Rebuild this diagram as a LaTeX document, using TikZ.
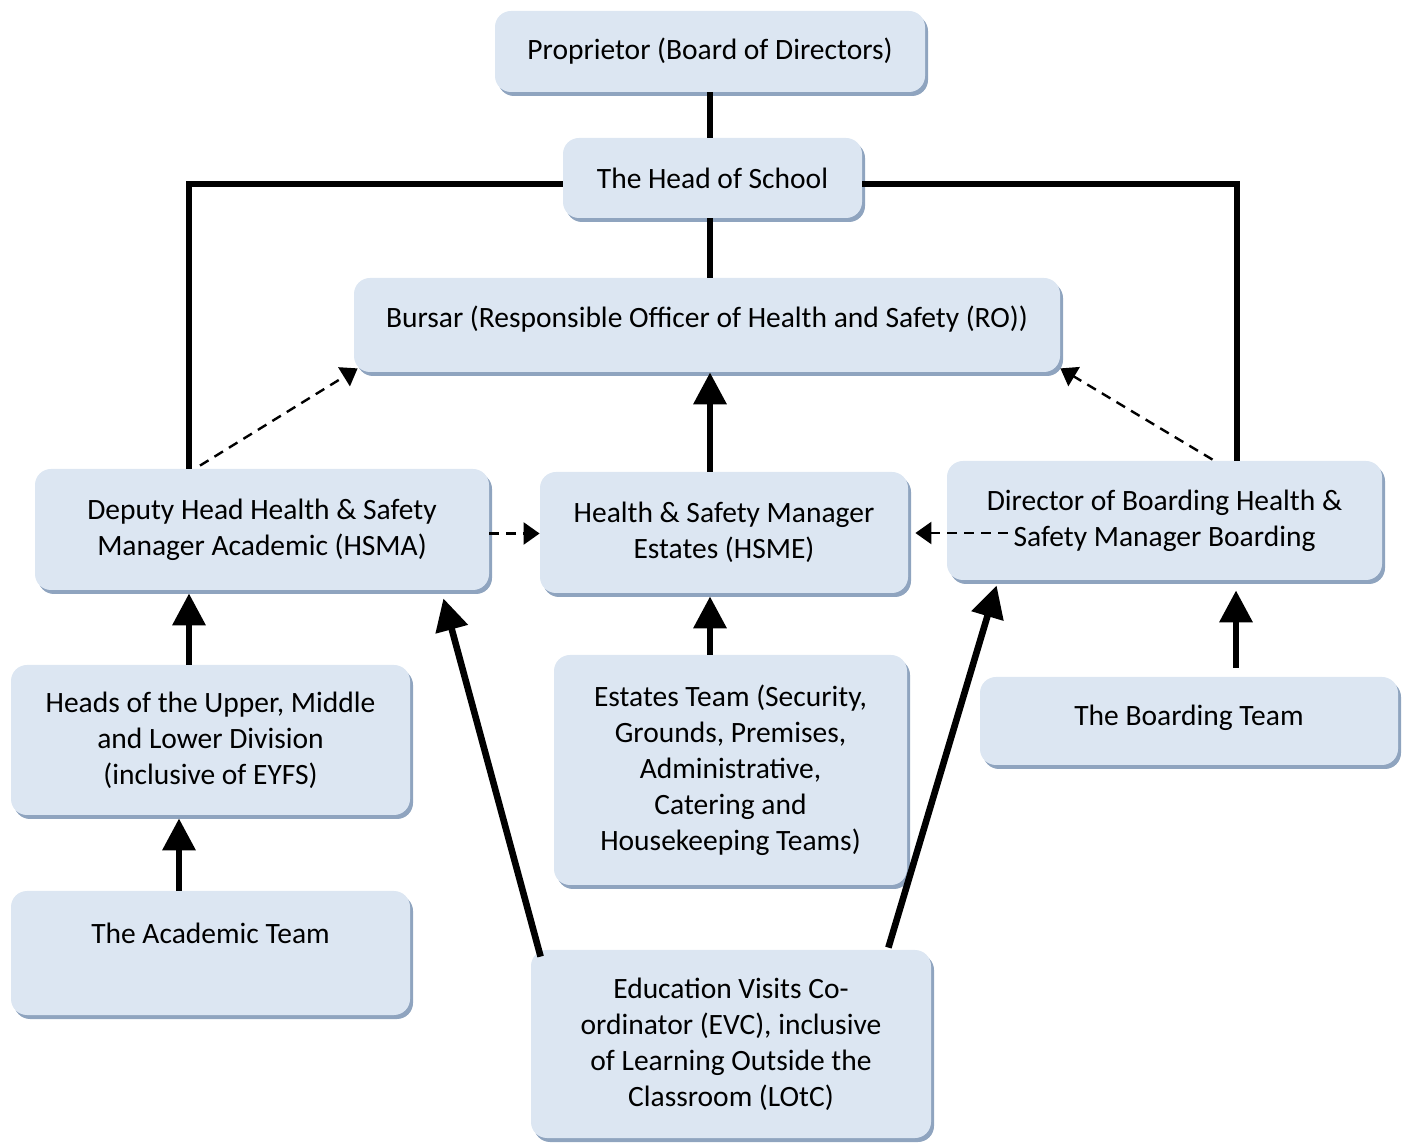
\documentclass[tikz,border=0pt]{standalone}
\usepackage{fontspec}
\setmainfont{Carlito}
\usetikzlibrary{arrows.meta,shadows,calc}
\definecolor{boxfill}{RGB}{220,230,242}
\definecolor{boxshadow}{RGB}{143,164,191}
\begin{document}
\begin{tikzpicture}[x=0.5pt,y=-0.5pt,
  box/.style={fill=boxfill, rounded corners=8pt, align=center,
    font=\fontsize{14.75}{18}\selectfont, inner sep=0pt,
    drop shadow={shadow xshift=1.5pt, shadow yshift=-2pt, fill=boxshadow, opacity=1}},
  thickline/.style={line width=3.3pt},
  thickarrow/.style={line width=3.3pt, -{Triangle[length=16pt,width=16pt]}},
  dasharrow/.style={line width=1.2pt, dash pattern=on 5pt off 3.5pt, -{Triangle[length=8pt,width=11pt]}}]
\useasboundingbox (0,0) rectangle (1409,1143);

\node[box, minimum width=215pt, minimum height=40.5pt] (prop) at (710,51.5) {Proprietor (Board of Directors)};
\node[box, minimum width=149.5pt, minimum height=40pt] (head) at (712.5,178) {The Head of School};
\node[box, minimum width=353pt, minimum height=47pt] (bursar) at (707,325) {\raisebox{3pt}[\height][\depth]{Bursar (Responsible Officer of Health and Safety (RO))}};
\node[box, minimum width=227pt, minimum height=60.5pt] (hsma) at (262,529.5) {Deputy Head Health \& Safety\\Manager Academic (HSMA)};
\node[box, minimum width=184pt, minimum height=60.5pt] (hsme) at (724,532.5) {Health \& Safety Manager\\Estates (HSME)};
\node[box, minimum width=217.5pt, minimum height=59.5pt] (dir) at (1164.5,520.5) {Director of Boarding Health \&\\Safety Manager Boarding};
\node[box, minimum width=199.5pt, minimum height=75pt] (heads) at (210.5,740) {Heads of the Upper, Middle\\and Lower Division\\(inclusive of EYFS)};
\node[box, minimum width=176.5pt, minimum height=115pt] (estates) at (730.5,770) {Estates Team (Security,\\Grounds, Premises,\\Administrative,\\Catering and\\Housekeeping Teams)};
\node[box, minimum width=209pt, minimum height=44pt] (bteam) at (1189,721) {\raisebox{1.5pt}[\height][\depth]{The Boarding Team}};
\node[box, minimum width=199.5pt, minimum height=62pt] (acad) at (210.5,953) {The Academic Team\\[2pt]\mbox{}};
\node[box, minimum width=200pt, minimum height=94pt] (evc) at (731,1044) {Education Visits Co-\\ordinator (EVC), inclusive\\of Learning Outside the\\Classroom (LOtC)};

% solid hierarchy lines
\coordinate (p1) at ([xshift=0pt]prop.south);
\draw[thickline] (p1) -- (p1 |- head.north);
\coordinate (h1) at ([xshift=-1.25pt]head.south);
\draw[thickline] (h1) -- (h1 |- bursar.north);
\coordinate (hl) at ([yshift=-3pt]head.west);
\coordinate (al) at ([xshift=-36.5pt]hsma.north);
\draw[thickline] (hl) -| (al);
\coordinate (hr) at ([yshift=-3pt]head.east);
\coordinate (dr) at ([xshift=36.25pt]dir.north);
\draw[thickline] (hr) -| (dr);

% thick arrows
\coordinate (e1) at ([xshift=-7pt]hsme.north);
\draw[thickarrow] (e1) -- (e1 |- bursar.south);
\coordinate (u1) at ([xshift=-10.75pt]heads.north);
\draw[thickarrow] (u1) -- ([yshift=-1.5pt]u1 |- hsma.south);
\coordinate (a1) at ([xshift=-15.75pt]acad.north);
\draw[thickarrow] (a1) -- ([yshift=-1.5pt]a1 |- heads.south);
\coordinate (s1) at ([xshift=-10.25pt]estates.north);
\draw[thickarrow] (s1) -- ([yshift=-1.5pt]s1 |- hsme.south);
\coordinate (b1) at ([xshift=23.5pt,yshift=4.5pt]bteam.north);
\draw[thickarrow] (b1) -- ([yshift=-5pt]b1 |- dir.south);
\coordinate (v1) at ([xshift=5pt,yshift=-3.5pt]evc.north west);
\coordinate (v2) at ([xshift=-23pt,yshift=-4pt]hsma.south east);
\draw[thickarrow] (v1) -- (v2);
\coordinate (w1) at ([xshift=-21.5pt,yshift=1pt]evc.north east);
\coordinate (w2) at ([xshift=25pt,yshift=-2.5pt]dir.south west);
\draw[thickarrow] (w1) -- (w2);

% dashed arrows
\coordinate (d1) at ([xshift=-31pt,yshift=1.5pt]hsma.north);
\coordinate (d2) at ([xshift=2pt,yshift=2pt]bursar.south west);
\draw[dasharrow] (d1) -- (d2);
\coordinate (d3) at ([xshift=24pt,yshift=0.5pt]dir.north);
\coordinate (d4) at ([xshift=0pt,yshift=2pt]bursar.south east);
\draw[dasharrow] (d3) -- (d4);
\coordinate (d5) at ([yshift=-2pt]hsma.east);
\draw[dasharrow] (d5) -- (d5 -| hsme.west);
\coordinate (d6) at ([xshift=30.5pt,yshift=-6.25pt]dir.west);
\draw[dasharrow] (d6) -- ([xshift=3.5pt]d6 -| hsme.east);
\end{tikzpicture}
\end{document}
